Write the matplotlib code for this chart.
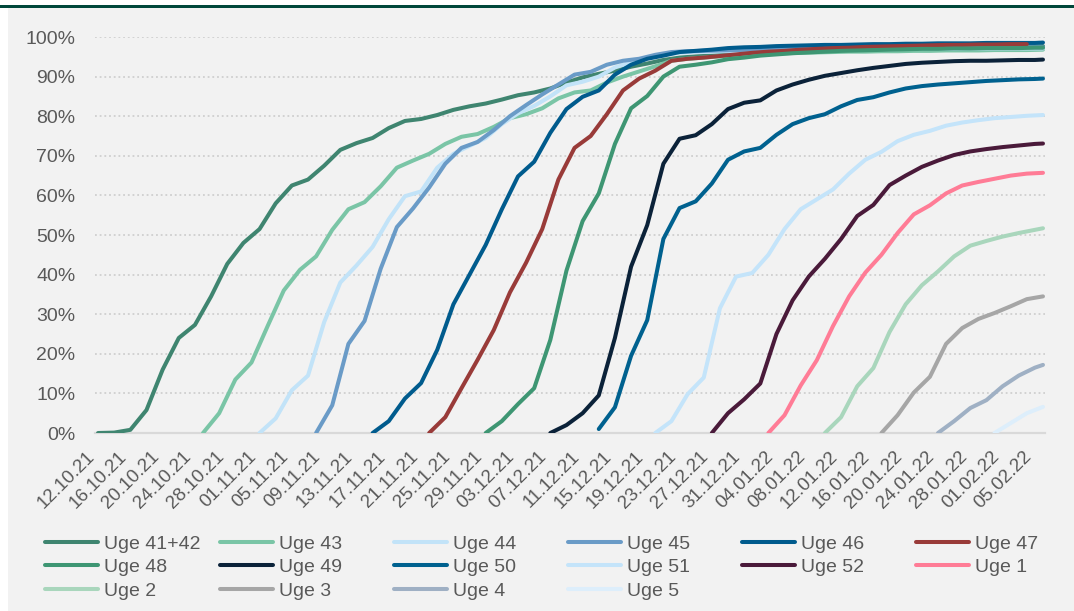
import numpy as np
import pandas as pd
import matplotlib
matplotlib.use("Agg")
import matplotlib.pyplot as plt
import matplotlib.dates as mdates
from matplotlib.patches import Rectangle

plt.rcParams['font.family'] = ['Liberation Sans', 'DejaVu Sans']

# share of each week's cohort, read every 2 days from its first day
labels = ['Uge 41+42', 'Uge 43', 'Uge 44', 'Uge 45', 'Uge 46', 'Uge 47',
          'Uge 48', 'Uge 49', 'Uge 50', 'Uge 51', 'Uge 52', 'Uge 1',
          'Uge 2', 'Uge 3', 'Uge 4', 'Uge 5']
starts = ['2021-10-12', '2021-10-25', '2021-11-01', '2021-11-08', '2021-11-15', '2021-11-22',
          '2021-11-29', '2021-12-07', '2021-12-13', '2021-12-20', '2021-12-27', '2022-01-03',
          '2022-01-10', '2022-01-17', '2022-01-24', '2022-01-31']

uge_41_42 = [0, 0.1, 0.8, 5.8, 16, 24, 27.3, 34.5, 42.7, 48, 51.5, 58, 62.5, 64, 67.5, 71.5,
             73.2, 74.5, 77, 78.8, 79.3, 80.3, 81.6, 82.5, 83.2, 84.2, 85.3, 86, 87, 88.5,
             89.8, 90.7, 91.5, 92.5, 93.3, 94.2, 94.8, 95.1, 95.3, 95.6, 95.8, 96.0, 96.2,
             96.4, 96.5, 96.6, 96.8, 96.9, 97.0, 97.1, 97.2, 97.3, 97.3, 97.4, 97.5, 97.5,
             97.6, 97.6, 97.6, 97.7]
uge_43 = [0, 5, 13.5, 17.8, 27, 36, 41.2, 44.6, 51.3, 56.5, 58.3, 62.3, 67, 68.8, 70.5, 73,
          74.8, 75.5, 77.3, 79.5, 80.5, 82, 84.5, 86, 86.5, 88.5, 90, 91.3, 92.6, 94, 94.5,
          94.8, 95.1, 95.4, 95.6, 95.8, 95.9, 96.0, 96.1, 96.2, 96.3, 96.3, 96.4, 96.4,
          96.5, 96.5, 96.6, 96.6, 96.6, 96.7, 96.7, 96.7, 96.8]
uge_44 = [0, 3.7, 10.8, 14.5, 28, 38, 42.3, 47, 54, 59.8, 61, 67, 70.5, 72.5, 74.5, 78,
          80.7, 82.6, 85, 87.8, 88.7, 90, 92.3, 93.6, 94.8, 95.5, 96, 96.2, 96.3, 96.4,
          96.5, 96.6, 96.6, 96.7, 96.7, 96.8, 96.8, 96.9, 96.9, 96.9, 97.0, 97.0, 97.0,
          97.0, 97.1, 97.1, 97.1, 97.1, 97.1, 97.1]
uge_45 = [0, 7, 22.5, 28.3, 41.5, 52, 56.7, 62, 68, 72, 73.5, 76.5, 80, 82.8, 85.5, 88,
          90.5, 91.2, 93, 94, 94.5, 95.5, 96.2, 96.4, 96.5, 96.6, 96.7, 96.8, 96.9, 96.9,
          97.0, 97.0, 97.1, 97.1, 97.1, 97.2, 97.2, 97.2, 97.3, 97.3, 97.3, 97.3, 97.4,
          97.4, 97.4, 97.4]
uge_46 = [0, 3, 8.7, 12.6, 21, 32.5, 40, 47.5, 56.5, 64.8, 68.5, 75.8, 81.8, 84.9, 86.5,
          90.5, 93, 94.5, 95.3, 96.2, 96.5, 96.8, 97.2, 97.4, 97.5, 97.7, 97.8, 97.9, 98.0,
          98.0, 98.1, 98.2, 98.2, 98.3, 98.3, 98.4, 98.4, 98.4, 98.5, 98.5, 98.5, 98.5, 98.6]
uge_47 = [0, 4, 11.3, 18.5, 26, 35.5, 43, 51.5, 64, 72, 75, 80.5, 86.5, 89.5, 91.5, 94,
          94.5, 94.8, 95.2, 95.6, 96, 96.3, 96.5, 96.8, 97.0, 97.2, 97.3, 97.5, 97.6, 97.7,
          97.8, 97.9, 98.0, 98.0, 98.1, 98.1, 98.2, 98.2]
uge_48 = [0, 3, 7.3, 11.3, 23.5, 41, 53.5, 60.5, 73, 82, 85.1, 90, 92.5, 93, 93.6, 94.4,
          94.8, 95.3, 95.6, 95.9, 96.1, 96.3, 96.5, 96.6, 96.7, 96.8, 96.9, 97.0, 97.0,
          97.1, 97.1, 97.2, 97.2, 97.2, 97.3, 97.3]
uge_49 = [0, 2, 5, 9.5, 24, 42, 52.5, 68, 74.3, 75.2, 78, 81.8, 83.4, 84, 86.5, 88, 89.2,
          90.2, 90.9, 91.6, 92.2, 92.7, 93.2, 93.5, 93.7, 93.9, 94, 94, 94.1, 94.2, 94.2, 94.3]
uge_50 = [1, 6.5, 19.5, 28.5, 49, 56.8, 58.5, 63, 69, 71.1, 72, 75.3, 78, 79.5, 80.5, 82.5,
          84.1, 84.8, 86, 87, 87.6, 88, 88.3, 88.6, 88.9, 89.1, 89.3, 89.4, 89.5]
uge_51 = [0, 3, 9.8, 14, 31.5, 39.5, 40.4, 45, 51.5, 56.5, 59, 61.5, 65.5, 69, 71, 73.7,
          75.3, 76.3, 77.6, 78.4, 79, 79.5, 79.8, 80.1, 80.3]
uge_52 = [0, 5, 8.5, 12.5, 25, 33.5, 39.5, 44, 49, 54.8, 57.6, 62.6, 65, 67.2, 68.8, 70.2,
          71.1, 71.7, 72.2, 72.6, 73, 73.1]
uge_1 = [0, 4.5, 12, 18.4, 27, 34.5, 40.5, 45, 50.5, 55.2, 57.5, 60.5, 62.5, 63.4, 64.2,
         65, 65.5, 65.7]
uge_2 = [0, 4, 11.8, 16.4, 25.5, 32.5, 37.3, 40.8, 44.6, 47.3, 48.5, 49.6, 50.5, 51.3, 51.7]
uge_3 = [0, 4.5, 10.2, 14.2, 22.5, 26.5, 28.8, 30.3, 32, 33.8, 34.5]
uge_4 = [0, 3, 6.3, 8.3, 11.8, 14.5, 16.5, 17.2]
uge_5 = [0, 2.5, 5, 6.6]

series = [uge_41_42, uge_43, uge_44, uge_45, uge_46, uge_47, uge_48, uge_49,
          uge_50, uge_51, uge_52, uge_1, uge_2, uge_3, uge_4, uge_5]

colors = ['#3F8570', '#7AC5A6', '#C2E3F8', '#6A9BC7', '#005B8D', '#993B39',
          '#3E9673', '#0B2239', '#00618F', '#C4E4FA', '#4A1A3A', '#FF7C96',
          '#A9D6BC', '#A6A6A6', '#9FB0C4', '#DDEEFB']

first_day = pd.Timestamp('2021-10-12')
last_day = pd.Timestamp('2022-02-06')
tick_dates = pd.date_range(first_day, '2022-02-05', freq='4D')

W, H = 1074, 611
fig = plt.figure(figsize=(W / 100, H / 100), dpi=100, facecolor='white')
fig.patches.append(Rectangle((8 / W, 0), 1, 1 - 8 / H, transform=fig.transFigure,
                             facecolor='#F2F2F2', edgecolor='none', zorder=-10))
fig.patches.append(Rectangle((0, 1 - 8 / H), 1, 3 / H, transform=fig.transFigure,
                             facecolor='#00473A', edgecolor='none', zorder=-9))

ax = fig.add_axes([95 / W, 1 - 433 / H, 950 / W, 396 / H])
ax.set_facecolor('none')

handles = []
for vals, start, lab, col in zip(series, starts, labels, colors):
    s = pd.Timestamp(start)
    x = [min(s + pd.Timedelta(days=2 * i), last_day) for i in range(len(vals))]
    ln, = ax.plot(x, vals, color=col, lw=2.9, label=lab, solid_capstyle='round',
                  solid_joinstyle='round', zorder=3)
    handles.append(ln)

ax.set_ylim(0, 100)
ax.set_xlim(first_day - pd.Timedelta(hours=9), first_day + pd.Timedelta(hours=117.25 * 24))
ax.set_yticks(range(0, 101, 10))
ax.set_yticklabels([f'{v}%' for v in range(0, 101, 10)])
ax.set_xticks(tick_dates)
ax.xaxis.set_major_formatter(mdates.DateFormatter('%d.%m.%y'))
ax.yaxis.grid(True, color='#CFCFCF', linestyle=(0, (1, 1.6)), linewidth=1.3, zorder=1)
ax.set_axisbelow(True)
for sp in ['top', 'right', 'left']:
    ax.spines[sp].set_visible(False)
ax.spines['bottom'].set_color('#D9D9D9')
ax.spines['bottom'].set_linewidth(1.6)
ax.tick_params(axis='y', length=0, pad=14, labelsize=14, labelcolor='#595959')
ax.tick_params(axis='x', length=0, pad=11, labelsize=13.5, labelcolor='#595959')
plt.setp(ax.get_xticklabels(), rotation=45, ha='right')

# legend: six evenly spaced columns, filled row by row
col_x = [45, 220, 394, 568, 742, 916]
for j, cx in enumerate(col_x):
    fig.legend(handles[j::6], labels[j::6], loc='upper left',
               bbox_to_anchor=(cx / W, 1 - 535 / H), frameon=False, fontsize=14,
               handlelength=2.7, handletextpad=0.35, labelspacing=0.3,
               borderpad=0, borderaxespad=0, labelcolor='#595959')

fig.savefig('out.png', dpi=100, facecolor=fig.get_facecolor())
